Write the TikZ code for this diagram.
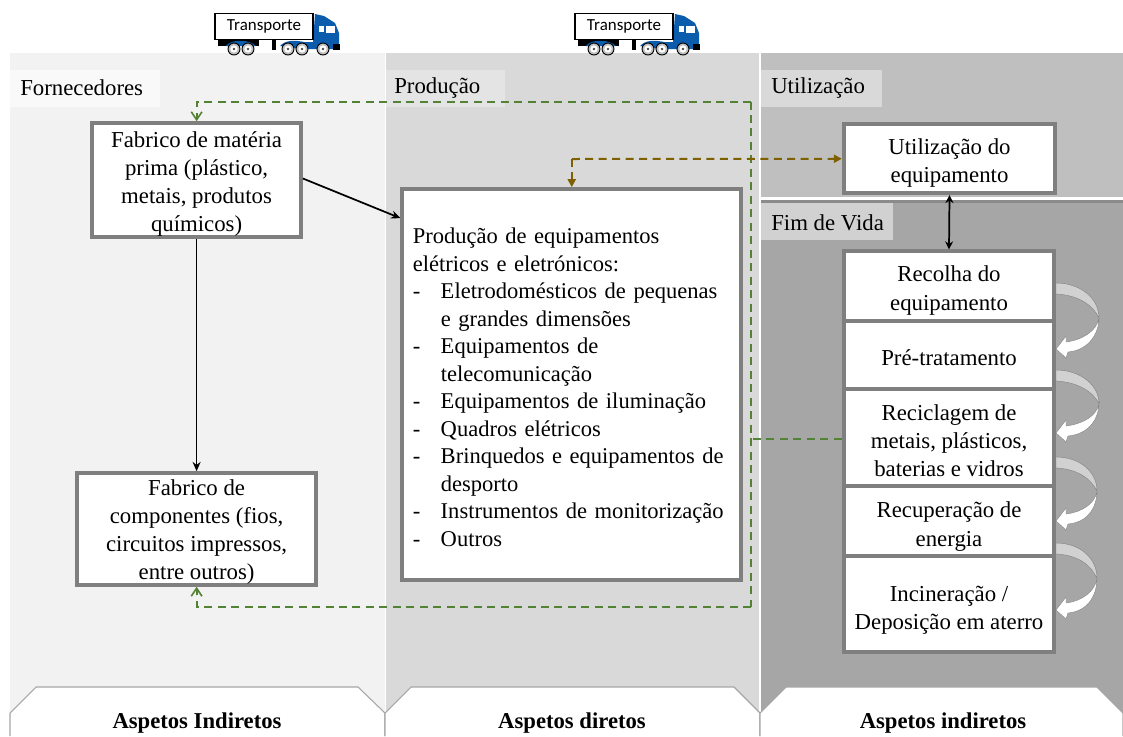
\documentclass[tikz,border=0pt]{standalone}
\usepackage{fontspec}
\setmainfont{Liberation Serif}
\newfontfamily\carlitofont{Carlito}
\usetikzlibrary{arrows.meta,calc}
\definecolor{panelA}{HTML}{F2F2F2}
\definecolor{panelB}{HTML}{D9D9D9}
\definecolor{panelC}{HTML}{BFBFBF}
\definecolor{panelD}{HTML}{A6A6A6}
\definecolor{boxline}{HTML}{7F7F7F}
\definecolor{greenline}{HTML}{548235}
\definecolor{brownline}{HTML}{7F6000}
\definecolor{truckblue}{HTML}{0B5CAD}
\tikzset{
  x=0.75pt,y=-0.75pt,
  patchlabel/.style={anchor=west,inner sep=0pt,font=\fontsize{17.1}{20}\selectfont},
  graybox/.style={draw=boxline,line width=3pt,fill=white,inner sep=0pt,align=center,font=\fontsize{17.1}{21.2}\selectfont},
  tab/.style={draw=panelD,line width=0.8pt,fill=white},
  tablabel/.style={font=\fontsize{17}{20}\selectfont\bfseries},
  blackarrow/.style={black,line width=1.3pt,-{Stealth[length=7pt,width=6pt]}},
  greendash/.style={greenline,line width=1.5pt,dash pattern=on 6pt off 4.1pt},
  greenarrow/.style={greendash,-{Straight Barb[length=6pt,width=8pt,line width=1.2pt]}},
  browndash/.style={brownline,line width=1.5pt,dash pattern=on 6pt off 4.1pt},
  brownarrow/.style={browndash,-{Triangle[length=6pt,width=6pt]}},
  bendtop/.style={fill=black!18,draw=boxline,line width=0.3pt},
  bendbot/.style={fill=white,draw=boxline,line width=0.3pt},
  wheel/.style={fill=black!25,draw=black,line width=0.7pt},
}
% pushes the text of a box down by #1 pixels
\newcommand{\tdown}[1]{\rule{0pt}{\dimexpr 11.9pt+#1pt*3/2\relax}}
\newcommand{\lst}[1]{\makebox[21pt][l]{-}#1}
\newcommand{\lsc}[1]{\hspace*{21pt}#1}
% #1 = start y, #2 = height to tip, #3 = x of the bulge
\newcommand{\bendarrow}[3]{%
  \pgfmathsetmacro{\ya}{#1}\pgfmathsetmacro{\yt}{#1+#2}%
  \pgfmathsetmacro{\ym}{#1+0.53*#2}%
  \draw[bendbot] (#3,\ym) .. controls (#3,{\ym+14}) and (1090,{\yt+1}) .. (1068,{\yt+3})
     -- (1066,{\yt+9}) -- (1056,\yt) -- (1066,{\yt-13}) -- (1066,{\yt-7})
     .. controls (1082,{\yt-9}) and (#3-2,{\ym+13}) .. (#3,\ym) -- cycle;
  \draw[bendtop] (1056,\ya) .. controls (1080,\ya) and (#3,{\ya+15}) .. (#3,\ym)
     .. controls (#3-6,{\ya+22}) and (1078,{\ya+12}) .. (1056,{\ya+11}) -- cycle;
}
% #1 = node name, #2 = x shift
\newcommand{\truckdraw}[2]{%
  \begin{scope}[xshift=#2*0.75pt]
    \fill[black] (218,39) rectangle (259,46);
    \fill[black] (272,40) rectangle (276,50);
    \fill[truckblue] (280,46) .. controls (285,40) and (295,40) .. (304,42) -- (313,42) -- (315,14)
      -- (324,16) -- (335,23) -- (339,33) -- (339,44) -- (339,49) -- (300,49) -- cycle;
    \fill[black] (333,44) rectangle (340,50);
    \fill[white] (319,26) rectangle (324,32);
    \fill[white] (326,26) rectangle (335,33);
    \fill[truckblue] (226,46) .. controls (230,39) and (250,39) .. (256,46) -- cycle;
    \foreach \wx in {234,248,288,302,323}{
      \draw[wheel] (\wx,49) circle[radius=6];
      \fill[white] (\wx,49) circle[radius=3.6];
      \fill[black!70] (\wx,49) circle[radius=1.4];
    }
    \node[draw=black,fill=white,line width=0.8pt,minimum width=73.5pt,minimum height=19.5pt,inner sep=0pt,
      font=\fontsize{12.7}{15}\selectfont\carlitofont] (#1) at (264,26.5) {Transporte};
  \end{scope}%
}
\begin{document}
\begin{tikzpicture}
\useasboundingbox (0,0) rectangle (1123,736);
\fill[white] (0,0) rectangle (1123,736);
% panels
\fill[panelA] (10,53) rectangle (385,736);
\fill[panelB] (386,53) rectangle (759,736);
\fill[panelC] (761,53) rectangle (1123,197);
\fill[panelD] (761,200) rectangle (1123,736);
\fill[boxline!70!panelD] (761,200) rectangle (1123,203);
% panel titles
\fill[white!55!panelA] (10,70) rectangle (160,107);
\fill[white!30!panelB] (386,70) rectangle (505,107);
\fill[panelB] (761,70) rectangle (882,107);
\fill[black!18] (761,203) rectangle (893,240);
\node[patchlabel] (tforn) at (20,88) {Fornecedores};
\node[patchlabel] (tprod) at (394,88) {Produção};
\node[patchlabel] (tutil) at (771,88) {Utilização};
\node[patchlabel] (tfim) at (771,223) {Fim de Vida};
% bottom tabs
\draw[tab] (10,736) -- (10,713) -- (36,687) -- (358,687) -- (385,713) -- (385,736);
\draw[tab] (385,736) -- (385,713) -- (411,687) -- (734,687) -- (760,713) -- (760,736);
\draw[tab] (760,736) -- (760,713) -- (786,687) -- (1097,687) -- (1123,713) -- (1123,736);
\node[tablabel] (la) at (197,723) {Aspetos Indiretos};
\node[tablabel] (lb) at (572,723) {Aspetos diretos};
\node[tablabel] (lc) at (943,723) {Aspetos indiretos};
% boxes
\node[graybox,minimum width=156.5pt,minimum height=82.5pt] (fab) at (196.6,180) {\tdown{4}Fabrico de matéria\\prima (plástico,\\metais, produtos\\químicos)};
\node[graybox,minimum width=179pt,minimum height=82.5pt] (comp) at (196.6,529) {\tdown{3}Fabrico de\\componentes (fios,\\circuitos impressos,\\entre outros)};
\node[graybox,minimum width=254pt,minimum height=293pt,text width=238.5pt,align=left,
  font=\fontsize{16.9}{20.63}\selectfont] (prod) at (571.75,384.5) {%
\tdown{2.5}Produção de equipamentos\\
elétricos e eletrónicos:\\
\lst{Eletrodomésticos de pequenas}\\
\lsc{e grandes dimensões}\\
\lst{Equipamentos de}\\
\lsc{telecomunicação}\\
\lst{Equipamentos de iluminação}\\
\lst{Quadros elétricos}\\
\lst{Brinquedos e equipamentos de}\\
\lsc{desporto}\\
\lst{Instrumentos de monitorização}\\
\lst{Outros}};
\node[graybox,minimum width=158.5pt,minimum height=51.5pt] (util) at (949.5,158.75) {\tdown{4}Utilização do\\equipamento};
\node[graybox,minimum width=158pt,minimum height=52pt] (rec) at (949,286) {\tdown{4.5}Recolha do\\equipamento};
\node[graybox,minimum width=158pt,minimum height=51pt] (pre) at (949,355) {\tdown{3}Pré-tratamento};
\node[graybox,minimum width=158pt,minimum height=72.75pt] (reci) at (949,437.5) {\tdown{3}Reciclagem de\\metais, plásticos,\\baterias e vidros};
\node[graybox,minimum width=158pt,minimum height=52.5pt] (recu) at (949,521) {\tdown{5.5}Recuperação de\\energia};
\node[graybox,minimum width=158pt,minimum height=72pt] (inc) at (949,604) {\tdown{6}Incineração /\\Deposição em aterro};
% bent arrows
\bendarrow{283}{66}{1099}
\bendarrow{370}{63}{1099}
\bendarrow{457}{64}{1097}
\bendarrow{543}{67}{1097}
% connectors
\coordinate (fabout) at ($(fab.east)+(0,-1.5)$);
\coordinate (prodin) at ($(prod.north west)+(0,31)$);
\draw[blackarrow] (fabout) -- (prodin);
\draw[blackarrow] (fab.south) -- (comp.north);
\draw[black,line width=1.3pt,{Stealth[length=6pt,width=6pt]}-{Stealth[length=6pt,width=6pt]}] (util.south) -- (rec.north);
\coordinate (gtop) at (751,101.5);
\coordinate (gbot) at (751,606.5);
\coordinate (gmid) at (751,438.5);
\draw[greenarrow] (gtop) -| (fab.north);
\draw[greendash] (gtop) -- (gbot);
\draw[greenarrow] (gbot) -| (comp.south);
\coordinate (recwest) at ($(reci.west)+(0,1)$);
\draw[greendash] (recwest) -- (gmid);
\coordinate (bcorner) at (571.75,159);
\draw[brownarrow] (bcorner) -- (util.west);
\draw[brownarrow] (bcorner) -- (prod.north);
% trucks
\truckdraw{tra}{0}
\truckdraw{trb}{360}
\end{tikzpicture}
\end{document}
